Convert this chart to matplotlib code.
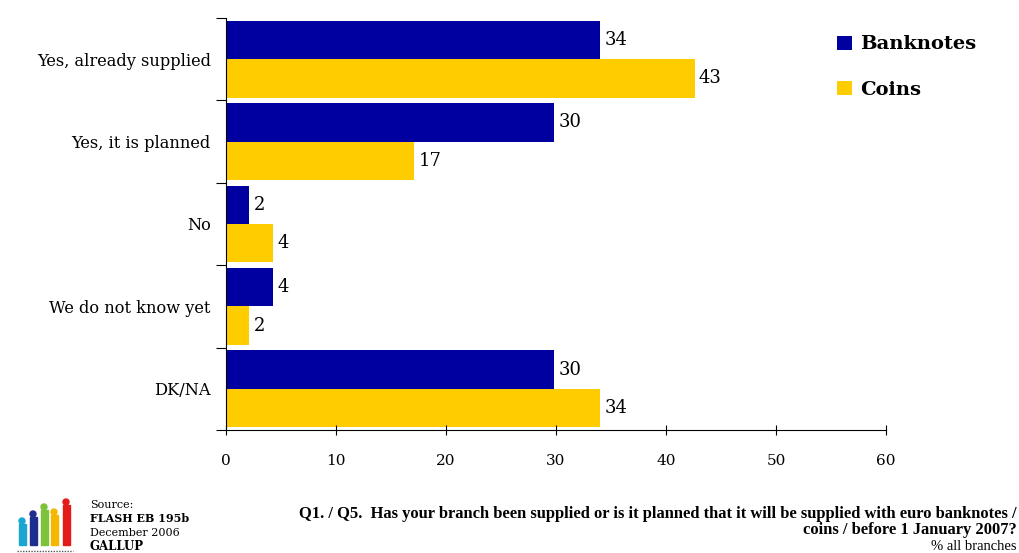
import numpy as np
import matplotlib.pyplot as plt
from matplotlib.patches import Rectangle, Circle

categories = ['Yes, already supplied', 'Yes, it is planned', 'No',
              'We do not know yet', 'DK/NA']
banknotes = [34.0, 29.8, 2.1, 4.3, 29.8]
coins = [42.6, 17.1, 4.3, 2.1, 34.0]
x_ticks = [0, 10, 20, 30, 40, 50, 60]

BLUE = '#0000A0'
YELLOW = '#FFCC00'
SERIF = ['DejaVu Serif']

plt.rcParams['font.family'] = SERIF

fig = plt.figure(figsize=(10.2, 5.53), dpi=100)
ax = fig.add_axes([226 / 1020, 1 - 430 / 553, 660 / 1020, 412 / 553])

y = np.arange(len(categories))
h = 0.465
ax.barh(y - h / 2, banknotes, height=h, color=BLUE, label='Banknotes')
ax.barh(y + h / 2, coins, height=h, color=YELLOW, label='Coins')

for i in range(len(categories)):
    ax.text(banknotes[i] + 0.4, y[i] - h / 2, str(int(round(banknotes[i]))),
            va='center', ha='left', fontsize=13)
    ax.text(coins[i] + 0.4, y[i] + h / 2, str(int(round(coins[i]))),
            va='center', ha='left', fontsize=13)

ax.set_xlim(0, 60)
ax.set_ylim(len(categories) - 0.5, -0.5)
ax.set_xticks(x_ticks)
ax.set_xticklabels([str(t) for t in x_ticks], fontsize=11)
ax.tick_params(axis='x', length=7, pad=14, direction='inout')

ax.set_yticks(np.arange(len(categories) + 1) - 0.5)
ax.set_yticklabels([])
ax.set_yticks(y, minor=True)
ax.set_yticklabels(categories, minor=True, fontsize=11.7)
ax.tick_params(axis='y', which='major', length=7, direction='out')
ax.tick_params(axis='y', which='minor', length=0, pad=11)

for s in ['top', 'right']:
    ax.spines[s].set_visible(False)

leg = ax.legend(loc='upper left', bbox_to_anchor=(0.9, 1.0), frameon=False,
                prop={'family': SERIF, 'weight': 'bold', 'size': 14},
                handlelength=0.75, handleheight=0.75, labelspacing=1.4,
                handletextpad=0.4)

# footer
fig.text(90 / 1020, 1 - 505 / 553, 'Source:', fontsize=8, va='center')
fig.text(90 / 1020, 1 - 519 / 553, 'FLASH EB 195b', fontsize=8, va='center',
         weight='bold')
fig.text(90 / 1020, 1 - 533 / 553, 'December 2006', fontsize=8, va='center')
fig.text(90 / 1020, 1 - 546 / 553, 'GALLUP', fontsize=8.5, va='center',
         weight='bold')

fig.text(1017 / 1020, 1 - 514 / 553,
         'Q1. / Q5.  Has your branch been supplied or is it planned that it will be supplied with euro banknotes /',
         fontsize=11.9, ha='right', va='center', weight='bold',
         family=['Liberation Serif'])
fig.text(1017 / 1020, 1 - 530 / 553, 'coins / before 1 January 2007?',
         fontsize=11.9, ha='right', va='center', weight='bold',
         family=['Liberation Serif'])
fig.text(1017 / 1020, 1 - 546 / 553, '% all branches',
         fontsize=10.5, ha='right', va='center', family=['Liberation Serif'])

# little logo
lax = fig.add_axes([15 / 1020, 0, 60 / 1020, 60 / 553])
lax.set_xlim(0, 60)
lax.set_ylim(0, 60)
lax.axis('off')
logo_cols = ['#1AA6D0', '#1E2E8C', '#7CC23A', '#F5B800', '#E21B1B']
logo_x = [7, 18, 29, 39, 51]
logo_top = [33, 40, 47, 42, 52]
for c, lx, lt in zip(logo_cols, logo_x, logo_top):
    lax.add_patch(Rectangle((lx - 3.5, 8), 7, lt - 12, color=c))
    lax.add_patch(Circle((lx, lt - 1), 3, color=c))
lax.plot([2, 58], [2, 2], color='#555555', lw=1, ls=(0, (1, 1)))

fig.savefig('out.png', dpi=100)
